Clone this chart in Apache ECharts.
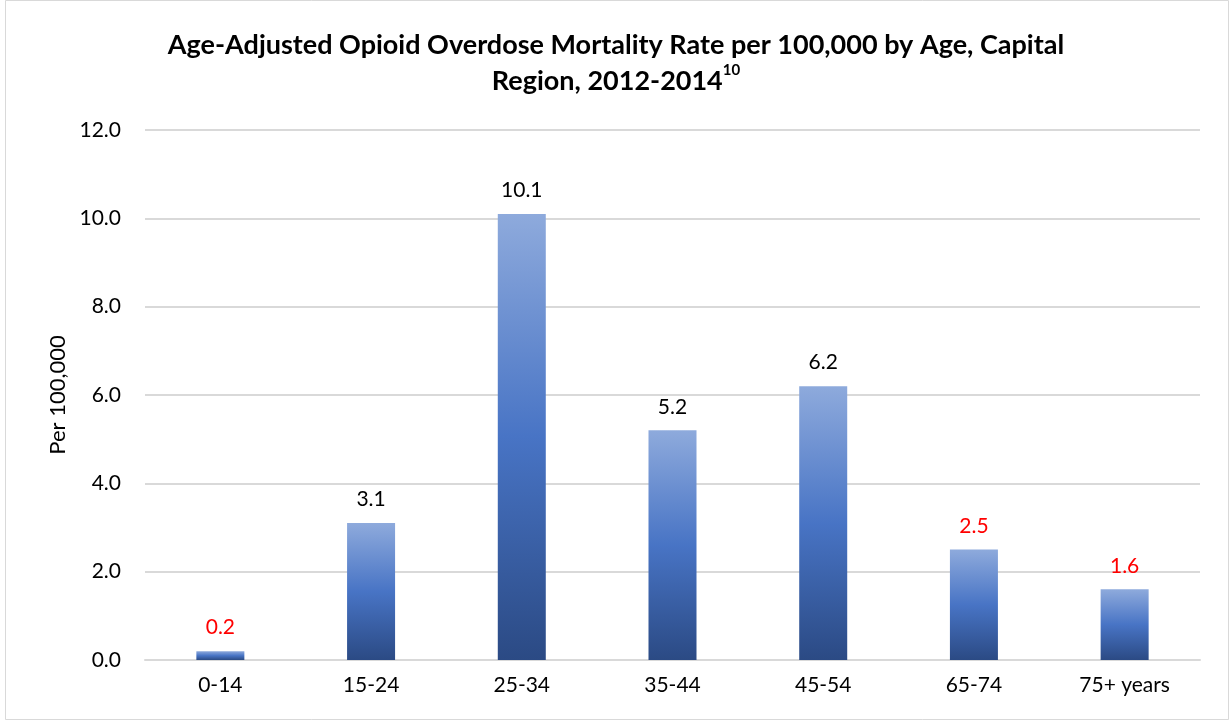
<!DOCTYPE html>
<html><head><meta charset="utf-8">
<script src="https://cdn.jsdelivr.net/npm/echarts@6/dist/echarts.min.js"></script>
<style>html,body{margin:0;padding:0;background:#fff}#c{width:1232px;height:721px}</style>
</head><body><div id="c"></div>
<script>
var categories = ['0-14','15-24','25-34','35-44','45-54','65-74','75+ years'];
var values = [0.2, 3.1, 10.1, 5.2, 6.2, 2.5, 1.6];
var redLabels = [true, false, false, false, false, true, true];
var yTicks = [0, 2, 4, 6, 8, 10, 12];

var FONT = 'Lato';
var chart = echarts.init(document.getElementById('c'), null, {renderer:'canvas'});
var grad = new echarts.graphic.LinearGradient(0,0,0,1,[
  {offset:0,color:'#8eaadc'},{offset:0.5,color:'#4874c5'},{offset:1,color:'#2b4a84'}]);
chart.setOption({
  animation:false,
  backgroundColor:'#fff',
  graphic:[{type:'rect',shape:{x:5.5,y:0.5,width:1223,height:719},style:{fill:'none',stroke:'#d9d9d9',lineWidth:1}}],
  title:{
    text:'Age-Adjusted Opioid Overdose Mortality Rate per 100,000 by Age, Capital\nRegion, 2012-2014{sup|10}',
    left:'center', top:22,
    textStyle:{fontFamily:FONT,fontSize:27,fontWeight:'bold',color:'#000',lineHeight:36,
      rich:{sup:{fontFamily:FONT,fontSize:15,fontWeight:'bold',color:'#000',verticalAlign:'top',padding:[0,0,12,0]}}}
  },
  grid:{left:145,right:32,top:130,bottom:61},
  xAxis:{type:'category',data:categories,
    axisLine:{lineStyle:{color:'#d9d9d9',width:2}},axisTick:{show:false},
    axisLabel:{fontFamily:FONT,fontSize:21,color:'#000',margin:15}},
  yAxis:{type:'value',min:0,max:12,interval:2,
    name:'Per 100,000',nameLocation:'middle',nameGap:76,
    nameTextStyle:{fontFamily:FONT,fontSize:22,color:'#000'},
    axisLine:{show:false},axisTick:{show:false},
    splitLine:{lineStyle:{color:'#d9d9d9',width:2}},
    axisLabel:{fontFamily:FONT,fontSize:21,color:'#000',margin:24,formatter:function(v){return v.toFixed(1);}}},
  series:[{type:'bar',barWidth:48,
    data:values.map(function(v,i){return {value:v,label:{color:redLabels[i]?'#ff0000':'#000'}};}),
    itemStyle:{color:grad},
    label:{show:true,position:'top',distance:13,fontFamily:FONT,fontSize:21,formatter:function(p){return p.value.toFixed(1);}}}]
});
</script></body></html>
